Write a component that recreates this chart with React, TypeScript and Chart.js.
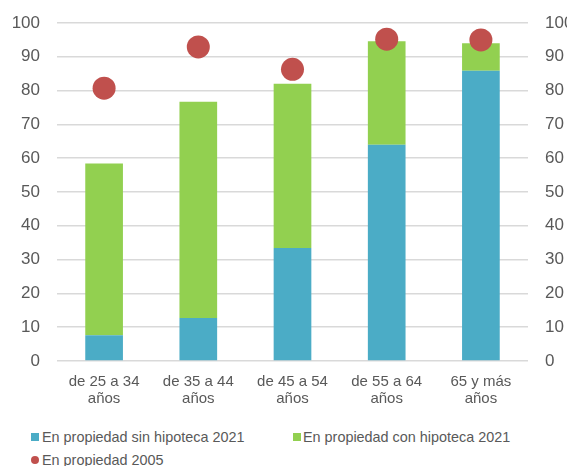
import React, { useEffect, useRef } from "react";
import { Chart, registerables } from "chart.js";

Chart.register(...registerables);

const categories: string[][] = [
  ["de 25 a 34", "años"],
  ["de 35 a 44", "años"],
  ["de 45 a 54", "años"],
  ["de 55 a 64", "años"],
  ["65 y más", "años"],
];
const sinHipoteca2021 = [7.6, 12.7, 33.4, 64.0, 85.9];
const conHipoteca2021 = [50.8, 64.0, 48.6, 30.6, 8.1];
const propiedad2005 = [80.7, 92.9, 86.3, 95.2, 95.0];

const labelSin = "En propiedad sin hipoteca 2021";
const labelCon = "En propiedad con hipoteca 2021";
const label2005 = "En propiedad 2005";

const BLUE = "#4bacc6";
const GREEN = "#92d050";
const RED = "#c0504d";
const TEXT = "#595959";
const FONT = "'Liberation Sans', Arial, sans-serif";

export default function App() {
  const ref = useRef<HTMLCanvasElement | null>(null);

  useEffect(() => {
    if (!ref.current) return;
    const chart = new Chart(ref.current, {
      type: "bar",
      data: {
        labels: categories,
        datasets: [
          {
            type: "line",
            label: label2005,
            data: propiedad2005,
            yAxisID: "y2",
            showLine: false,
            pointRadius: 11.5,
            pointHoverRadius: 11.5,
            pointBackgroundColor: RED,
            pointBorderWidth: 0,
            borderColor: RED,
            backgroundColor: RED,
            order: 0,
          } as any,
          {
            type: "bar",
            label: labelSin,
            data: sinHipoteca2021,
            backgroundColor: BLUE,
            yAxisID: "y",
            stack: "s",
            order: 1,
          },
          {
            type: "bar",
            label: labelCon,
            data: conHipoteca2021,
            backgroundColor: GREEN,
            yAxisID: "y",
            stack: "s",
            order: 1,
          },
        ],
      },
      options: {
        animation: false,
        responsive: false,
        maintainAspectRatio: false,
        layout: { padding: { top: 15, left: 0, right: 0, bottom: 1 } },
        datasets: { bar: { categoryPercentage: 1, barPercentage: 0.4 } } as any,
        plugins: {
          legend: { display: false },
          tooltip: { enabled: false },
        },
        scales: {
          x: {
            stacked: true,
            grid: { display: false, drawTicks: false },
            border: { display: false },
            ticks: {
              color: TEXT,
              padding: 12,
              maxRotation: 0,
              autoSkip: false,
              font: { family: FONT, size: 15, lineHeight: 1.17 },
            },
          },
          y: {
            stacked: true,
            position: "left",
            min: 0,
            max: 100,
            afterFit: (s: any) => {
              s.width = 49;
            },
            grid: {
              color: "#d9d9d9",
              lineWidth: 1.5,
              drawTicks: true,
              tickLength: 17,
              tickColor: "rgba(0,0,0,0)",
            },
            border: { display: false },
            ticks: {
              stepSize: 10,
              color: TEXT,
              padding: 0,
              font: { family: FONT, size: 17 },
            },
          },
          y2: {
            position: "right",
            min: 0,
            max: 100,
            afterFit: (s: any) => {
              s.width = 47;
            },
            grid: {
              display: true,
              drawOnChartArea: false,
              drawTicks: true,
              tickLength: 17,
              color: "rgba(0,0,0,0)",
              tickColor: "rgba(0,0,0,0)",
            },
            border: { display: false },
            ticks: {
              stepSize: 10,
              color: TEXT,
              padding: 0,
              font: { family: FONT, size: 17 },
            },
          },
        },
      },
    });
    return () => chart.destroy();
  }, []);

  const itemStyle = (left: number, centerY: number): React.CSSProperties => ({
    position: "absolute",
    left,
    top: centerY - 10,
    height: 20,
    display: "flex",
    alignItems: "center",
    whiteSpace: "nowrap",
    fontFamily: FONT,
    fontSize: 14.4,
    color: TEXT,
  });

  return (
    <div style={{ position: "relative", width: 567, height: 458, overflow: "hidden" }}>
      <canvas ref={ref} width={567} height={413} style={{ display: "block", width: 567, height: 413 }} />
      <div style={itemStyle(23, 428.5)}>
        <span style={{ display: "inline-block", width: 8, height: 8, background: BLUE, marginRight: 3 }} />
        <span>{labelSin}</span>
      </div>
      <div style={itemStyle(285, 428.5)}>
        <span style={{ display: "inline-block", width: 8, height: 8, background: GREEN, marginRight: 2 }} />
        <span>{labelCon}</span>
      </div>
      <div style={itemStyle(23, 452)}>
        <span style={{ display: "inline-block", width: 8, height: 8, borderRadius: "50%", background: RED, marginRight: 3 }} />
        <span>{label2005}</span>
      </div>
    </div>
  );
}
